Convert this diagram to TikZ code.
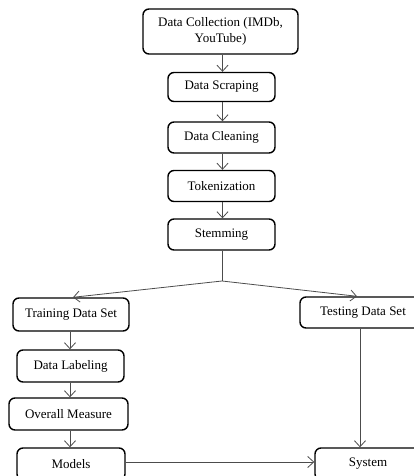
\documentclass[tikz,border=0pt]{standalone}
\usepackage{fontspec}
\setmainfont{Liberation Serif}
\usetikzlibrary{arrows.meta}
\begin{document}
\begin{tikzpicture}[x={(1pt,0)}, y={(0,-1pt)},
  box/.style={draw=black, line width=1.4pt, rounded corners=6pt, inner sep=0pt, align=center,
    font=\fontsize{13}{16}\selectfont},
  conn/.style={draw=black!70, line width=0.8pt, -{Straight Barb[length=6pt,width=11pt]}},
  plain/.style={draw=black!70, line width=0.8pt}]
\useasboundingbox (0,0) rectangle (414,476);
\clip (0,0) rectangle (414,476);
\node[box, minimum width=155pt, minimum height=45pt] (dc) at (220.5,31.5) {Data Collection (IMDb,\\ YouTube)};
\node[box, minimum width=107pt, minimum height=29pt] (ds) at (221.5,87) {Data Scraping};
\node[box, minimum width=107pt, minimum height=31pt] (cl) at (221.5,137.5) {Data Cleaning};
\node[box, minimum width=107pt, minimum height=31pt] (tk) at (221.5,186) {Tokenization};
\node[box, minimum width=107pt, minimum height=31pt] (st) at (221.5,234.5) {Stemming};
\coordinate (j) at (222,281);
\node[box, minimum width=116pt, minimum height=33pt] (tr) at (71,314.5) {Training Data Set};
\node[box, minimum width=107pt, minimum height=32pt] (lb) at (70.5,366) {Data Labeling};
\node[box, minimum width=119pt, minimum height=32pt] (om) at (68.5,414) {Overall Measure};
\node[box, minimum width=108pt, minimum height=32pt] (md) at (71,464) {Models};
\node[box, minimum width=126pt, minimum height=31pt] (te) at (363,312.5) {Testing Data Set};
\node[box, minimum width=106pt, minimum height=32pt] (sy) at (368,464) {System};

\draw[conn] (dc.south -| 222.5,0) -- (ds.north -| 222.5,0);
\draw[conn] (ds.south -| 222.5,0) -- (cl.north -| 222.5,0);
\draw[conn] (cl.south -| 222.5,0) -- (tk.north -| 222.5,0);
\draw[conn] (tk.south -| 222.5,0) -- (st.north -| 222.5,0);
\draw[plain] (st.south -| j) -- (j);
\draw[conn] (j) -- (tr.north -| 73,0);
\draw[conn] (j) -- (te.north -| 357,0);
\draw[conn] (tr.south -| 70,0) -- (lb.north -| 70,0);
\draw[conn] (lb.south -| 70,0) -- (om.north -| 70,0);
\draw[conn] (om.south -| 70,0) -- (md.north -| 70,0);
\draw[conn] (te.south -| 360,0) -- (sy.north -| 360,0);
\draw[conn] (md.east |- 0,462) -- (sy.west |- 0,462);
\end{tikzpicture}
\end{document}
